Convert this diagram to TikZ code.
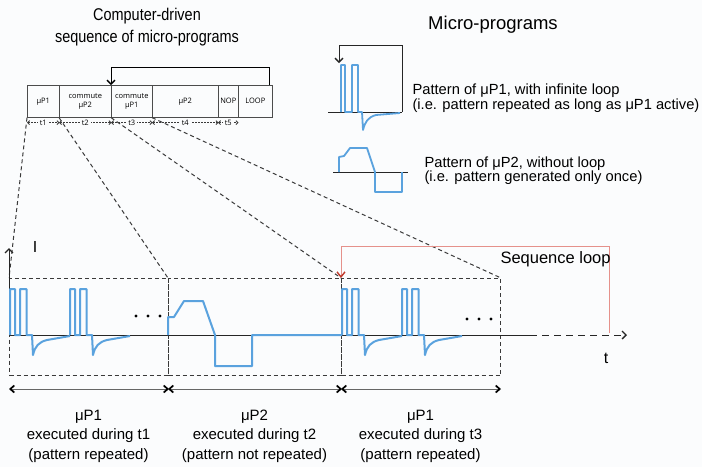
\documentclass[tikz,border=0pt]{standalone}
\usepackage{fontspec}
\setmainfont{Liberation Sans}
\newfontfamily\titlefont[FakeStretch=0.85]{Liberation Sans}
\newfontfamily\boxfont{Open Sans}
\usetikzlibrary{arrows.meta}
\definecolor{wave}{HTML}{5AA2DE}
\definecolor{loopred}{HTML}{E5918B}
\definecolor{tipred}{HTML}{C0392B}
\definecolor{guidegray}{HTML}{3A3A3A}
\definecolor{bg}{HTML}{FBFCFD}
\begin{document}
\begin{tikzpicture}[x=1pt,y=-1pt,
  wavepath/.style={draw=wave, line width=2pt, line join=round},
  guide/.style={draw=guidegray, line width=1pt, dash pattern=on 4pt off 3pt},
  segbox/.style={draw=black!70, line width=0.6pt, minimum height=32pt, inner sep=0pt, anchor=north west, font=\boxfont\fontsize{7.5}{9.5}\selectfont, align=center},
  zone/.style={guide, minimum height=97pt, inner sep=0pt, anchor=north west},
  barb/.style={-{Straight Barb[length=4pt,width=8pt,line width=1.3pt]}},
  both/.style={{Straight Barb[length=4pt,width=7pt,line width=1.7pt,black]}-{Straight Barb[length=4pt,width=7pt,line width=1.7pt,black]}},
  tick/.style={draw=guidegray, line width=0.6pt, dash pattern=on 1.5pt off 1.5pt, {Straight Barb[length=2pt,width=4pt,line width=0.9pt]}-{Straight Barb[length=2pt,width=4pt,line width=0.9pt]}},
  tlab/.style={fill=bg, inner sep=2pt, font=\boxfont\fontsize{7.5}{9}\selectfont},
  axis/.style={line width=0.8pt, draw=black!85},
  txt/.style={font=\fontsize{15}{19.5}\selectfont, align=center}
]
\fill[bg] (0,0) rectangle (702,467);
\useasboundingbox (0,0) rectangle (702,467);

% title
\node[font=\titlefont\fontsize{17}{22}\selectfont, align=center] (title) at (147,27.5) {Computer-driven\\sequence of micro-programs};

% sequence of segments
\node[segbox, minimum width=32pt] (s1) at (27,85) {μP1};
\node[segbox, minimum width=52pt] (s2) at (59,85) {commute\\μP2};
\node[segbox, minimum width=41pt] (s3) at (111,85) {commute\\μP1};
\node[segbox, minimum width=66pt] (s4) at (152,85) {μP2};
\node[segbox, minimum width=20pt] (s5) at (218,85) {NOP};
\node[segbox, minimum width=34pt] (s6) at (238,85) {LOOP};
\draw[line width=0.9pt, barb] ([xshift=-3pt]s6.north east) -- ++(0,-18) -| (s3.north west);

% time ticks
\draw[tick] ([yshift=-5pt]s1.south west) -- ([yshift=-5pt]s1.south east) node[midway, tlab] (t1) {t1};
\draw[tick] ([yshift=-5pt]s2.south west) -- ([yshift=-5pt]s2.south east) node[midway, tlab] (t2) {t2};
\draw[tick] ([yshift=-5pt]s3.south west) -- ([yshift=-5pt]s3.south east) node[midway, tlab] (t3) {t3};
\draw[tick] ([yshift=-5pt]s4.south west) -- ([yshift=-5pt]s4.south east) node[midway, tlab] (t4) {t4};
\draw[tick] ([yshift=-5pt]s5.south west) -- ([yshift=-5pt]s5.south east) node[midway, tlab] (t5) {t5};

% zones
\node[zone, minimum width=159pt] (b1) at (9,278) {};
\node[zone, minimum width=173pt] (b2) at (168,278) {};
\node[zone, minimum width=159pt] (b3) at (341,278) {};

% guides
\draw[guide] (s1.south west) -- (b1.north west);
\draw[guide] (s2.south west) -- (b2.north west);
\draw[guide] (s3.south west) -- (b3.north west);
\draw[guide] (s4.south west) -- (b3.north east);

% axes
\coordinate (o) at (9,335);
\coordinate (ytop) at (9,248);
\coordinate (xsolid) at (530,335);
\coordinate (xend) at (627,335);
\draw[axis, barb] (o) -- (ytop);
\draw[axis] (o) -- (xsolid);
\draw[axis, dash pattern=on 7pt off 5pt, barb] (xsolid) -- (xend);
\node[font=\fontsize{16}{16}\selectfont] (ilab) at (35,247) {I};
\node[font=\fontsize{16}{16}\selectfont] (tlabel) at (606,358) {t};

% waves: muP1
\foreach \x in {10,70,342,402} {
  \draw[wavepath, shift={(\x,335)}] (0,0) -- (0,-46) -- (5,-46) -- (5,0) -- (10,0) -- (10,-46) -- (16.5,-46) -- (16.5,0) -- (22,0) -- (23,20) .. controls (25,11) and (29,7) .. (37,5) -- (60,1);
}
% wave: muP2
\draw[wavepath] (168,335) -- (168,317) -- (174,317) -- (184,301) -- (203,301) -- (215,335) -- (215,366) -- (252,366) -- (252,335) -- (342,335);

% dots
\foreach \x in {136,148,160} \fill (\x,316) circle (1.6);
\foreach \x in {467,479,491} \fill (\x,319) circle (1.6);

% red sequence loop
\coordinate (rl) at (609,333);
\draw[loopred, line width=1pt, -{Straight Barb[length=5pt,width=8pt,line width=1.4pt,color=tipred]}] (rl) -- ++(0,-87) -| (b3.north west);
\node[anchor=base west, font=\fontsize{16.5}{16.5}\selectfont] (sl) at (497,263) {Sequence loop};

% bottom arrows
\draw[axis, draw=black!60, both] ([yshift=-13pt]b1.south west) -- ([yshift=-13pt]b1.south east);
\draw[axis, draw=black!60, both] ([yshift=-13pt]b2.south west) -- ([yshift=-13pt]b2.south east);
\draw[axis, draw=black!60, both] ([yshift=-13pt]b3.south west) -- ([yshift=-13pt]b3.south east);
\node[txt] (c1) at (88.5,436) {μP1\\executed during t1\\(pattern repeated)};
\node[txt] (c2) at (254.5,436) {μP2\\executed during t2\\(pattern not repeated)};
\node[txt] (c3) at (420.5,436) {μP1\\executed during t3\\(pattern repeated)};

% micro-programs legend
\node[font=\fontsize{18.5}{18.5}\selectfont] (mp) at (493,25) {Micro-programs};
\draw[axis] (328,112) -- (402,112);
\draw[wavepath, line width=1.8pt] (341,112) -- (341,65) -- (345,65) -- (345,112) -- (352,112) -- (352,65) -- (358,65) -- (358,112) -- (362,112) -- (363,130) .. controls (365,122) and (368,117) .. (376,115) -- (400,113);
\draw[axis, barb] (402,112) -- (402,45) -- (339,45) -- (339,63);
\node[anchor=west, align=left, font=\fontsize{14.7}{13}\selectfont] (p1) at (409,98.4) {Pattern of μP1, with infinite loop\\(i.e. pattern repeated as long as μP1 active)};

\draw[axis] (333,172) -- (408,172);
\draw[wavepath, line width=1.8pt] (339,172) -- (339,157) -- (344,156) -- (350,148) -- (367,148) -- (375,172) -- (375,192) -- (402,192) -- (402,172);
\node[anchor=west, align=left, font=\fontsize{14.7}{14}\selectfont] (p2) at (421,171) {Pattern of μP2, without loop\\(i.e. pattern generated only once)};
\end{tikzpicture}
\end{document}
